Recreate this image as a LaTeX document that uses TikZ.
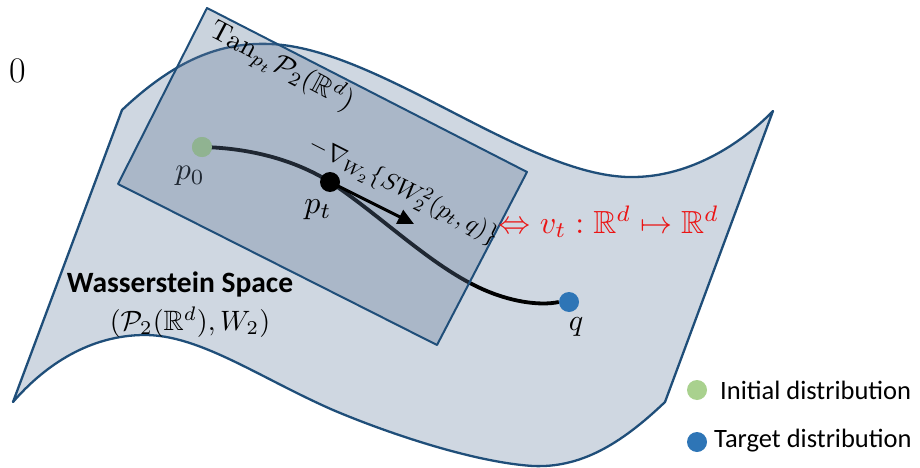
\documentclass[tikz,border=0pt]{standalone}
\usepackage{amssymb}
\usepackage{fontspec}
\newfontfamily\calibri{Carlito}
\usetikzlibrary{arrows.meta}
\definecolor{edgeblue}{RGB}{31,78,121}
\definecolor{surf}{RGB}{207,215,225}
\definecolor{planec}{RGB}{95,120,152}
\definecolor{greendot}{RGB}{169,209,142}
\definecolor{bluedot}{RGB}{46,117,182}
\definecolor{redtxt}{RGB}{235,20,20}
\tikzset{
  edge/.style={draw=edgeblue, line width=2.3pt, line join=round},
  dot/.style={circle, inner sep=0pt, minimum size=20pt},
  lbl/.style={inner sep=0pt},
  legtext/.style={inner sep=0pt, anchor=west, font=\calibri\fontsize{26.5}{30}\selectfont}
}
\begin{document}
\begin{tikzpicture}[x=1pt,y=-1pt]
\useasboundingbox (0,0) rectangle (920,468);
% surface
\path[edge, fill=surf] (122,110) .. controls (175,60) and (220,42) .. (270,44)
  .. controls (380,48) and (530,180) .. (635,177)
  .. controls (690,176) and (740,145) .. (773,111)
  -- (665,402)
  .. controls (620,445) and (580,468) .. (533,466)
  .. controls (470,462) and (380,430) .. (333,410)
  .. controls (260,378) and (200,335) .. (145,335)
  .. controls (90,335) and (45,365) .. (13,402) -- cycle;
% path
\node[dot, fill=greendot] (p0) at (202,147) {};
\coordinate (pt) at (330,182);
\node[dot, fill=bluedot] (q) at (569,302) {};
\draw[line width=3.8pt, black] (p0.center) .. controls (250,148) and (295,160) .. (pt)
  .. controls (380,215) and (430,265) .. (480,288)
  .. controls (510,302) and (540,306) .. (q.west);
\node[dot, fill=greendot] at (p0) {};
\node[lbl, scale=3.1] (p0l) at (190,176) {$p_0$};
% tangent plane
\path[fill=planec, fill opacity=0.33] (207,8) -- (527,172) -- (437,345) -- (118,184) -- cycle;
\draw[edge, line width=2pt] (207,8) -- (527,172) -- (437,345) -- (118,184) -- cycle;
% pt and arrow
\node[dot, fill=black] (ptd) at (pt) {};
\coordinate (tip) at (414,224);
\draw[line width=3pt, -{Triangle[length=16pt,width=15pt]}] (ptd.center) -- (tip);
\node[lbl, scale=3.2] (ptl) at (318,210) {$p_t$};
\node[lbl, scale=3.0] (q l) at (576,327) {$q$};
% texts
\node[lbl, rotate=-28, scale=2.8] (tan) at (282,66) {$\mathrm{Tan}_{p_t}\mathcal{P}_2(\mathbb{R}^d)$};
\node[lbl, rotate=-27, scale=2.45] (grad) at (404,190) {$-\nabla_{W_2}\{SW_2^2(p_t,q)\}$};
\node[lbl, text=redtxt, scale=3.2] (red) at (609,222) {$\Leftrightarrow v_t:\mathbb{R}^d\mapsto\mathbb{R}^d$};
\node[lbl, font=\fontsize{36}{40}\selectfont] (zero) at (18,71) {0};
\node[lbl, font=\calibri\bfseries\fontsize{29.5}{32}\selectfont] (ws) at (180,284) {Wasserstein Space};
\node[lbl, scale=2.8] (wsm) at (190,322) {$(\mathcal{P}_2(\mathbb{R}^d),W_2)$};
% legend
\node[dot, fill=greendot] (lg) at (697,390) {};
\node[legtext] (lgt) at (720,390) {Initial distribution};
\node[dot, fill=bluedot] (lb) at (697,442) {};
\node[legtext] (lbt) at (714,441) {Target distribution};
\end{tikzpicture}
\end{document}
